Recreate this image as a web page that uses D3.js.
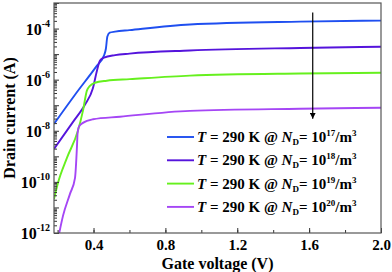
<!DOCTYPE html>
<html lang="en">

<head>
    <meta charset="UTF-8">
    <title>Drain current vs gate voltage</title>
    <script src="https://d3js.org/d3.v7.min.js"></script>
    <style>
        body { margin: 0; background: #fff; }
        text { font-family: "Liberation Serif", "Times New Roman", serif; font-weight: bold; fill: #000; }
    </style>
</head>

<body>
    <div id="chart"></div>
    <script>
        const width = 392;
        const height = 272;
        const margin = { top: 3, right: 11, bottom: 39, left: 54 };

        // curves: gate voltage (V) and log10 of drain current (A)
        const vBlue = [0.18, 0.297, 0.419, 0.458, 0.469, 0.477, 0.49, 0.52, 0.60, 0.936, 1.55, 2.0];
        const lBlue = [-7.73, -6.59, -5.45, -5.06, -4.78, -4.31, -4.16, -4.12, -4.06, -3.84, -3.73, -3.69];

        const vPurple = [0.18, 0.286, 0.352, 0.396, 0.419, 0.436, 0.458, 0.52, 0.60, 0.936, 1.55, 2.0];
        const lPurple = [-8.71, -7.65, -6.98, -6.35, -5.65, -5.25, -5.14, -5.04, -4.98, -4.86, -4.76, -4.71];

        const vGreen = [0.18, 0.202, 0.252, 0.313, 0.341, 0.363, 0.38, 0.408, 0.474, 0.602, 0.936, 1.55, 2.0];
        const lGreen = [-10.67, -10.04, -9.06, -8.0, -7.22, -6.43, -6.24, -6.12, -6.04, -5.98, -5.84, -5.76, -5.73];

        const vViolet = [0.208, 0.23, 0.269, 0.297, 0.308, 0.311, 0.319, 0.341, 0.397, 0.547, 0.936, 1.55, 2.0];
        const lViolet = [-12.04, -11.33, -10.47, -9.84, -8.59, -8.12, -7.84, -7.69, -7.55, -7.45, -7.22, -7.14, -7.10];

        const dopings = ["17", "18", "19", "20"];
        const colors = ["#1f4ff0", "#5514dc", "#66f01e", "#a546f5"];
        const xTicks = [0.4, 0.8, 1.2, 1.6, 2.0];
        const yLabelExps = [-12, -10, -8, -6, -4];
        const arrowV = [1.62, 1.62];
        const arrowL = [-3.37, -7.53];

        const series = [
            { v: vBlue, l: lBlue },
            { v: vPurple, l: lPurple },
            { v: vGreen, l: lGreen },
            { v: vViolet, l: lViolet }
        ];

        const svg = d3.select("#chart")
            .append("svg")
            .attr("width", width)
            .attr("height", height);

        const x = d3.scaleLinear()
            .domain([0.18, 2.0])
            .range([margin.left, width - margin.right]);

        const y = d3.scaleLog()
            .domain([1e-12, 1e-3])
            .range([height - margin.bottom, margin.top]);

        svg.append("clipPath").attr("id", "clip")
            .append("rect")
            .attr("x", margin.left).attr("y", margin.top)
            .attr("width", width - margin.left - margin.right)
            .attr("height", height - margin.top - margin.bottom);

        // curves
        const line = d3.line()
            .x(d => x(d[0]))
            .y(d => y(Math.pow(10, d[1])))
            .curve(d3.curveMonotoneX);

        svg.append("g")
            .attr("clip-path", "url(#clip)")
            .selectAll("path")
            .data(series)
            .enter()
            .append("path")
            .attr("d", d => line(d.v.map((v, i) => [v, d.l[i]])))
            .attr("fill", "none")
            .attr("stroke", (d, i) => colors[i])
            .attr("stroke-width", 1.9);

        // x axis (ticks pointing in)
        const xMinor = d3.range(0.2, 2.01, 0.2);
        svg.append("g")
            .attr("transform", `translate(0,${height - margin.bottom})`)
            .call(d3.axisBottom(x).tickValues(xMinor).tickSize(-3).tickFormat(""))
            .call(g => g.select(".domain").remove())
            .selectAll("line").attr("stroke", "#333");

        const xAxis = svg.append("g")
            .attr("transform", `translate(0,${height - margin.bottom})`)
            .call(d3.axisBottom(x).tickValues(xTicks).tickSize(-5).tickPadding(6).tickFormat(d3.format(".1f")));
        xAxis.select(".domain").remove();
        xAxis.selectAll("line").attr("stroke", "#333");
        xAxis.selectAll("text")
            .attr("font-size", 15)
            .style("font-family", "'Liberation Serif', 'Times New Roman', serif")
            .style("font-weight", "bold");

        // y axis: minor ticks 2..9 per decade, major at each decade
        const yMinor = [];
        const yMajor = [];
        for (let e = -12; e <= -3; e++) {
            yMajor.push(Math.pow(10, e));
            if (e < -3) for (let k = 2; k <= 9; k++) yMinor.push(k * Math.pow(10, e));
        }
        svg.append("g")
            .attr("transform", `translate(${margin.left},0)`)
            .call(d3.axisLeft(y).tickValues(yMinor).tickSize(-3).tickFormat(""))
            .call(g => g.select(".domain").remove())
            .selectAll("line").attr("stroke", "#333");
        svg.append("g")
            .attr("transform", `translate(${margin.left},0)`)
            .call(d3.axisLeft(y).tickValues(yMajor).tickSize(-5).tickFormat(""))
            .call(g => g.select(".domain").remove())
            .selectAll("line").attr("stroke", "#333");

        const yLabels = svg.append("g")
            .selectAll("text")
            .data(yLabelExps)
            .enter()
            .append("text")
            .attr("x", margin.left - 4)
            .attr("y", d => y(Math.pow(10, d)) + 6)
            .attr("text-anchor", "end")
            .attr("font-size", 16);
        yLabels.append("tspan").text("10");
        yLabels.append("tspan")
            .attr("dy", -8)
            .attr("font-size", 10)
            .text(d => String(d));

        // frame
        svg.append("rect")
            .attr("x", margin.left).attr("y", margin.top)
            .attr("width", width - margin.left - margin.right)
            .attr("height", height - margin.top - margin.bottom)
            .attr("fill", "none")
            .attr("stroke", "#555")
            .attr("stroke-width", 1.2);

        // axis titles
        svg.append("text")
            .attr("x", (margin.left + width - margin.right) / 2)
            .attr("y", height - 3)
            .attr("text-anchor", "middle")
            .attr("font-size", 16)
            .text("Gate voltage (V)");

        svg.append("text")
            .attr("transform", `translate(15,${(margin.top + height - margin.bottom) / 2}) rotate(-90)`)
            .attr("text-anchor", "middle")
            .attr("font-size", 16)
            .text("Drain current (A)");

        // arrow
        svg.append("defs").append("marker")
            .attr("id", "head")
            .attr("viewBox", "0 0 10 10")
            .attr("refX", 10).attr("refY", 5)
            .attr("markerWidth", 5).attr("markerHeight", 5)
            .attr("orient", "auto")
            .append("path")
            .attr("d", "M0,0 L10,5 L0,10 z")
            .attr("fill", "#000");

        svg.append("line")
            .attr("x1", x(arrowV[0])).attr("y1", y(Math.pow(10, arrowL[0])))
            .attr("x2", x(arrowV[1])).attr("y2", y(Math.pow(10, arrowL[1])))
            .attr("stroke", "#000")
            .attr("stroke-width", 1.2)
            .attr("marker-end", "url(#head)");

        // legend
        const legend = svg.append("g")
            .selectAll("g")
            .data(dopings)
            .enter()
            .append("g")
            .attr("transform", (d, i) => `translate(167,${137 + i * 23.3})`);

        legend.append("line")
            .attr("x1", 0).attr("x2", 27)
            .attr("stroke", (d, i) => colors[i])
            .attr("stroke-width", 1.9);

        const lt = legend.append("text")
            .attr("x", 30)
            .attr("y", 5)
            .attr("font-size", 15);
        lt.append("tspan").attr("font-style", "italic").text("T");
        lt.append("tspan").text(" = 290 K @ ");
        lt.append("tspan").attr("font-style", "italic").text("N");
        lt.append("tspan").attr("font-size", 9).attr("dy", 3).text("D");
        lt.append("tspan").attr("dy", -3).text("= 10");
        lt.append("tspan").attr("font-size", 9).attr("dy", -6).text(d => d);
        lt.append("tspan").attr("dy", 6).text("/m");
        lt.append("tspan").attr("font-size", 9).attr("dy", -6).text("3");
    </script>
</body>

</html>
